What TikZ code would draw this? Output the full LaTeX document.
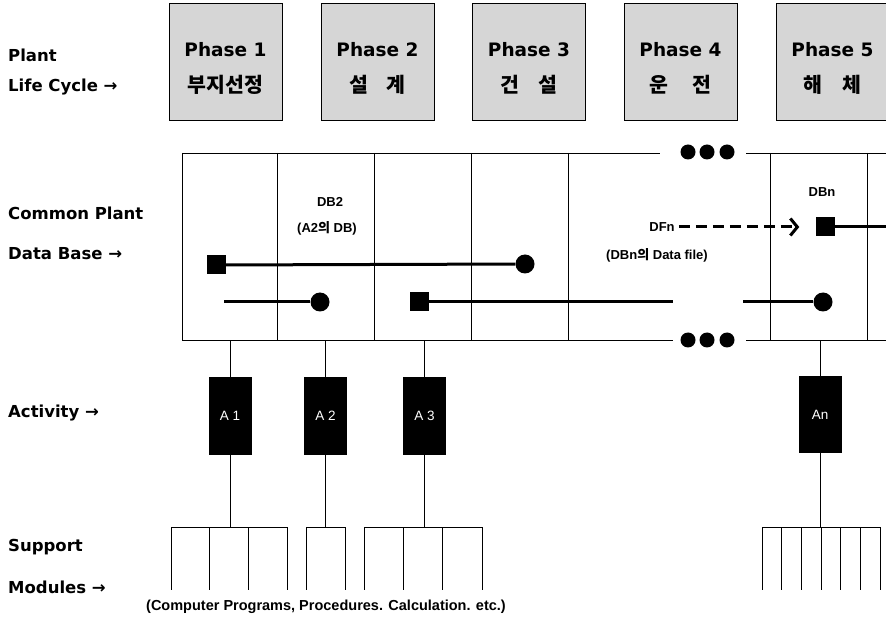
\documentclass[tikz,border=0pt]{standalone}
\usepackage{fontspec}
\setmainfont{Liberation Sans}
\newfontfamily\labfont{DejaVu Sans}
\newfontfamily\kofont{Noto Sans CJK KR}
\usepackage{tikz}
\usetikzlibrary{positioning,arrows.meta,calc}

\begin{document}
\begin{tikzpicture}[
  x=1pt, y=-1pt,
  phase/.style={draw, line width=0.8pt, fill=gray!32, minimum width=113pt, minimum height=117pt, inner sep=0pt},
  phtext/.style={font=\labfont\bfseries\fontsize{18.5}{20}\selectfont, inner sep=0pt},
  kotext/.style={font=\kofont\bfseries\fontsize{20.5}{22}\selectfont, inner sep=0pt},
  side/.style={anchor=west, inner sep=0pt, font=\labfont\bfseries\fontsize{16.5}{18}\selectfont},
  act/.style={fill=black, minimum width=43pt, minimum height=77pt, inner sep=0pt,
              text=white, font=\fontsize{13.5}{15}\selectfont},
  dbtext/.style={inner sep=0pt, font=\bfseries\fontsize{13}{15}\selectfont},
  thinl/.style={line width=0.8pt},
  dbline/.style={line width=3pt},
  sqr/.style={fill=black, minimum size=19pt, inner sep=0pt},
  blob/.style={circle, fill=black, minimum size=19pt, inner sep=0pt},
]
\useasboundingbox (0,0) rectangle (886,617);

% life cycle phases
\foreach \x/\n/\ko in {225.5/1/부지선정, 377.5/2/설\hspace{0.9em}계, 529/3/건\hspace{0.9em}설,
                        680.5/4/운\hspace{1.2em}전, 832.5/5/해\hspace{1em}체} {
  \node[phase] (p\n) at (\x,61.5) {};
  \node[phtext] at ([yshift=-47pt]p\n.north) {Phase \n};
  \node[kotext] at ([yshift=-82pt]p\n.north) {\ko};
}

% side labels
\node[side] (plant) at (8,55) {Plant};
\node[side] (life) at (8,87) {Life Cycle →};
\node[side] (cpdb) at (8,213) {Common Plant};
\node[side] (dbase) at (8,254) {Data Base →};
\node[side] (activ) at (8,413) {Activity →};
\node[side] (supp) at (8,547) {Support};
\node[side] (modul) at (8,587) {Modules →};

% common plant data base
\draw[thinl] (182,153) -- (660,153) (746,153) -- (886,153);
\draw[thinl] (182,340) -- (673,340) (746,340) -- (886,340);
\foreach \x in {182,277,374,471,568,770,867}
  \draw[thinl] (\x,153) -- (\x,340);
\foreach \x in {688,707,727} {
  \fill (\x,152) circle (7.5);
  \fill (\x,340) circle (7.5);
}
\coordinate (dbb) at (0,340);

\node[dbtext] (db2) at (330,202) {DB2};
\node[dbtext] (db2a) at (327,228) {(A2{\kofont 의} DB)};
\node[dbtext] (dbn) at (822,192) {DBn};
\node[dbtext] (dfn) at (662,227) {DFn};
\node[dbtext] (dfile) at (657,255) {(DBn{\kofont 의} Data file)};

\node[sqr] (sq1) at (216,265) {};
\node[blob] (c1) at (525,264) {};
\draw[dbline] (sq1) -- (c1);

\coordinate (l2s) at (224,302);
\node[blob] (c2) at (320,302) {};
\draw[dbline] (l2s) -- (c2);

\node[sqr] (sq3) at (419,302) {};
\coordinate (l3e) at (673,302);
\draw[dbline] (sq3) -- (l3e);

\coordinate (l4s) at (743,302);
\node[blob] (c4) at (823,302) {};
\draw[dbline] (l4s) -- (c4);

\node[sqr] (sq5) at (825,227) {};
\coordinate (l5e) at (886,227);
\draw[dbline] (sq5) -- (l5e);
\draw[dbline, dash pattern=on 11pt off 6pt, -{Straight Barb[length=7pt,width=17pt]}]
  ([xshift=4pt]dfn.east) -- ([xshift=-16pt]sq5.west);

% activities
\node[act] (a1) at (230,416) {A 1};
\node[act] (a2) at (325.5,416) {A 2};
\node[act] (a3) at (424.5,416) {A 3};
\node[act] (an) at (820,414.5) {An};

\coordinate (bar) at (0,527);
\foreach \a in {a1,a2,a3,an} {
  \draw[thinl] (\a.north) -- (\a.north |- dbb);
  \draw[thinl] (\a.south) -- (\a.south |- bar);
}

% support modules
\foreach \xa/\xb/\n in {171/287/3, 306/345/1, 364/482/3, 762/880/6} {
  \draw[thinl] (\xa,527) -- (\xb,527);
  \foreach \k in {0,...,\n}
    \draw[thinl] ({\xa+\k*(\xb-\xa)/\n},527) -- ++(0,63);
}
\node[dbtext, font=\bfseries\fontsize{14.5}{16}\selectfont] (progs) at (326,607)
  {(Computer Programs, Procedures. Calculation. etc.)};
\end{tikzpicture}
\end{document}
